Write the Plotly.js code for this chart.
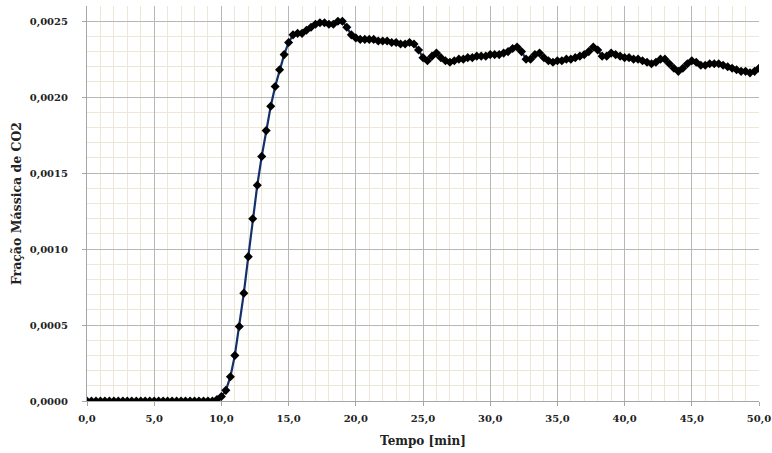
<!DOCTYPE html>
<html>
<head>
<meta charset="utf-8">
<script src="https://cdn.plot.ly/plotly-3.0.1.min.js"></script>
<style>html,body{margin:0;padding:0;background:#fff}#chart{width:772px;height:453px}</style>
</head>
<body>
<div id="chart"></div>
<script>
const tempoMin = [
  0.00, 0.33, 0.67, 1.00, 1.33, 1.67, 2.00, 2.33, 2.67, 3.00,
  3.33, 3.67, 4.00, 4.33, 4.67, 5.00, 5.33, 5.67, 6.00, 6.33,
  6.67, 7.00, 7.33, 7.67, 8.00, 8.33, 8.67, 9.00, 9.33, 9.67,
  10.00, 10.33, 10.67, 11.00, 11.33, 11.67, 12.00, 12.33, 12.67, 13.00,
  13.33, 13.67, 14.00, 14.33, 14.67, 15.00, 15.33, 15.67, 16.00, 16.33,
  16.67, 17.00, 17.33, 17.67, 18.00, 18.33, 18.67, 19.00, 19.33, 19.67,
  20.00, 20.33, 20.67, 21.00, 21.33, 21.67, 22.00, 22.33, 22.67, 23.00,
  23.33, 23.67, 24.00, 24.33, 24.67, 25.00, 25.33, 25.67, 26.00, 26.33,
  26.67, 27.00, 27.33, 27.67, 28.00, 28.33, 28.67, 29.00, 29.33, 29.67,
  30.00, 30.33, 30.67, 31.00, 31.33, 31.67, 32.00, 32.33, 32.67, 33.00,
  33.33, 33.67, 34.00, 34.33, 34.67, 35.00, 35.33, 35.67, 36.00, 36.33,
  36.67, 37.00, 37.33, 37.67, 38.00, 38.33, 38.67, 39.00, 39.33, 39.67,
  40.00, 40.33, 40.67, 41.00, 41.33, 41.67, 42.00, 42.33, 42.67, 43.00,
  43.33, 43.67, 44.00, 44.33, 44.67, 45.00, 45.33, 45.67, 46.00, 46.33,
  46.67, 47.00, 47.33, 47.67, 48.00, 48.33, 48.67, 49.00, 49.33, 49.67,
  50.00
];
const fracaoCO2 = [
  0, 0, 0, 0, 0, 0, 0, 0, 0, 0,
  0, 0, 0, 0, 0, 0, 0, 0, 0, 0,
  0, 0, 0, 0, 0, 0, 0, 0, 0, 0.00001,
  0.00003, 0.00007, 0.00016, 0.00030, 0.00049, 0.00071, 0.00095, 0.00120, 0.00142, 0.00161,
  0.00178, 0.00194, 0.00207, 0.00218, 0.00228, 0.00236, 0.00241, 0.00242, 0.00242, 0.00244,
  0.00246, 0.00248, 0.00249, 0.00249, 0.00248, 0.00248, 0.00250, 0.00250, 0.00246, 0.00241,
  0.00239, 0.00238, 0.00238, 0.00238, 0.00238, 0.00237, 0.00237, 0.00237, 0.00236, 0.00236,
  0.00235, 0.00235, 0.00236, 0.00235, 0.00231, 0.00226, 0.00224, 0.00227, 0.00229, 0.00226,
  0.00224, 0.00223, 0.00224, 0.00225, 0.00225, 0.00226, 0.00226, 0.00227, 0.00227, 0.00227,
  0.00228, 0.00228, 0.00228, 0.00229, 0.00230, 0.00232, 0.00233, 0.00230, 0.00225, 0.00225,
  0.00228, 0.00229, 0.00226, 0.00224, 0.00223, 0.00224, 0.00224, 0.00225, 0.00225, 0.00226,
  0.00227, 0.00228, 0.00230, 0.00233, 0.00231, 0.00227, 0.00227, 0.00229, 0.00228, 0.00227,
  0.00226, 0.00226, 0.00225, 0.00225, 0.00224, 0.00223, 0.00222, 0.00223, 0.00225, 0.00225,
  0.00222, 0.00219, 0.00217, 0.00219, 0.00222, 0.00224, 0.00223, 0.00221, 0.00221, 0.00222,
  0.00222, 0.00222, 0.00221, 0.00220, 0.00219, 0.00218, 0.00217, 0.00217, 0.00216, 0.00217,
  0.00219
];
const xTitle = "Tempo [min]";
const yTitle = "Fração Mássica de CO2";

const font = "DejaVu Serif, Liberation Serif, serif";
const majorGrid = "#b7b7b7";
const minorGrid = "#ece7d6";

const trace = {
  x: tempoMin,
  y: fracaoCO2,
  type: "scatter",
  mode: "lines+markers",
  line: {color: "#13306b", width: 2.2},
  marker: {symbol: "diamond", color: "#000000", size: 7},
  hoverinfo: "skip"
};

const layout = {
  width: 772,
  height: 453,
  margin: {l: 87, r: 13, t: 6, b: 52},
  paper_bgcolor: "#ffffff",
  plot_bgcolor: "#ffffff",
  showlegend: false,
  separators: ",.",
  font: {family: font, color: "#222222"},
  xaxis: {
    range: [0, 50],
    dtick: 5,
    tick0: 0,
    tickformat: ".1f",
    showgrid: true,
    gridcolor: majorGrid,
    gridwidth: 1,
    minor: {dtick: 1, showgrid: true, gridcolor: minorGrid, gridwidth: 1},
    zeroline: false,
    showline: true,
    linecolor: "#a6a6a6",
    ticks: "outside",
    ticklen: 4,
    tickcolor: "#a6a6a6",
    ticklabelstandoff: 4,
    tickfont: {family: font, size: 10, color: "#222222", weight: "bold"},
    title: {text: "<b>" + xTitle + "</b>", font: {family: font, size: 12, color: "#222222"}, standoff: 12}
  },
  yaxis: {
    range: [0, 0.0026],
    dtick: 0.0005,
    tick0: 0,
    tickformat: ".4f",
    showgrid: true,
    gridcolor: majorGrid,
    gridwidth: 1,
    minor: {dtick: 0.0001, showgrid: true, gridcolor: minorGrid, gridwidth: 1},
    zeroline: false,
    showline: true,
    linecolor: "#a6a6a6",
    ticks: "outside",
    ticklen: 4,
    tickcolor: "#a6a6a6",
    ticklabelstandoff: 12,
    tickfont: {family: font, size: 10, color: "#222222", weight: "bold"},
    title: {text: "<b>" + yTitle + "</b>", font: {family: font, size: 12.5, color: "#222222"}, standoff: 5}
  }
};

Plotly.newPlot("chart", [trace], layout, {displayModeBar: false, staticPlot: true});
</script>
</body>
</html>
